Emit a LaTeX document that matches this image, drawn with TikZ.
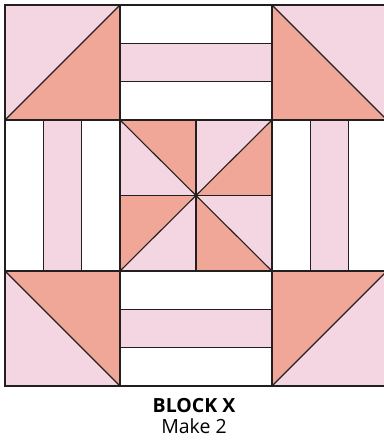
\documentclass[tikz,border=0pt]{standalone}
\usepackage{fontspec}
\setmainfont{Open Sans}
\usepackage{xcolor}
\definecolor{quiltPink}{RGB}{243, 214, 225}
\definecolor{quiltSalmon}{RGB}{240, 167, 152}
\definecolor{quiltLine}{RGB}{35, 31, 32}

\begin{document}
\begin{tikzpicture}[x=1pt, y=-1pt, line width=1.1pt]
    \useasboundingbox (0,0) rectangle (383,443);
    % corner squares
    \fill[quiltPink] (5,5) rectangle (120,120);
    \fill[quiltPink] (272,5) rectangle (387,120);
    \fill[quiltPink] (5,271) rectangle (120,386);
    \fill[quiltPink] (272,271) rectangle (387,386);
    \fill[quiltSalmon] (5,120) -- (120,5) -- (120,120) -- cycle;
    \fill[quiltSalmon] (272,5) -- (387,120) -- (272,120) -- cycle;
    \fill[quiltSalmon] (5,271) -- (120,386) -- (120,271) -- cycle;
    \fill[quiltSalmon] (272,386) -- (387,271) -- (272,271) -- cycle;
    % strips
    \fill[quiltPink] (120,43.3) rectangle (272,81.7);
    \fill[quiltPink] (120,309.3) rectangle (272,347.7);
    \fill[quiltPink] (43.3,120) rectangle (81.7,271);
    \fill[quiltPink] (310.3,120) rectangle (348.7,271);
    % pinwheel
    \fill[quiltPink] (120,120) rectangle (272,271);
    \fill[quiltSalmon] (120,120) -- (196,120) -- (196,195.5) -- cycle;
    \fill[quiltSalmon] (196,195.5) -- (272,120) -- (272,195.5) -- cycle;
    \fill[quiltSalmon] (120,195.5) -- (120,271) -- (196,195.5) -- cycle;
    \fill[quiltSalmon] (196,195.5) -- (196,271) -- (272,271) -- cycle;
    % seams
    \draw[quiltLine] (5,5) rectangle (387,386);
    \draw[quiltLine] (120,5) -- (120,386);
    \draw[quiltLine] (272,5) -- (272,386);
    \draw[quiltLine] (5,120) -- (387,120);
    \draw[quiltLine] (5,271) -- (387,271);
    \draw[quiltLine] (120,43.3) -- (272,43.3);
    \draw[quiltLine] (120,81.7) -- (272,81.7);
    \draw[quiltLine] (120,309.3) -- (272,309.3);
    \draw[quiltLine] (120,347.7) -- (272,347.7);
    \draw[quiltLine] (43.3,120) -- (43.3,271);
    \draw[quiltLine] (81.7,120) -- (81.7,271);
    \draw[quiltLine] (310.3,120) -- (310.3,271);
    \draw[quiltLine] (348.7,120) -- (348.7,271);
    \draw[quiltLine] (196,120) -- (196,271);
    \draw[quiltLine] (120,195.5) -- (272,195.5);
    \draw[quiltLine] (120,120) -- (272,271);
    \draw[quiltLine] (272,120) -- (120,271);
    \draw[quiltLine] (5,120) -- (120,5);
    \draw[quiltLine] (272,5) -- (387,120);
    \draw[quiltLine] (5,271) -- (120,386);
    \draw[quiltLine] (272,386) -- (387,271);
    % caption
    \node[anchor=base, font=\bfseries\fontsize{19.5}{22}\selectfont] (blockName) at (194,412) {BLOCK X};
    \node[anchor=base, font=\fontsize{19.5}{22}\selectfont] (blockCount) at (194,433) {Make 2};
\end{tikzpicture}
\end{document}
